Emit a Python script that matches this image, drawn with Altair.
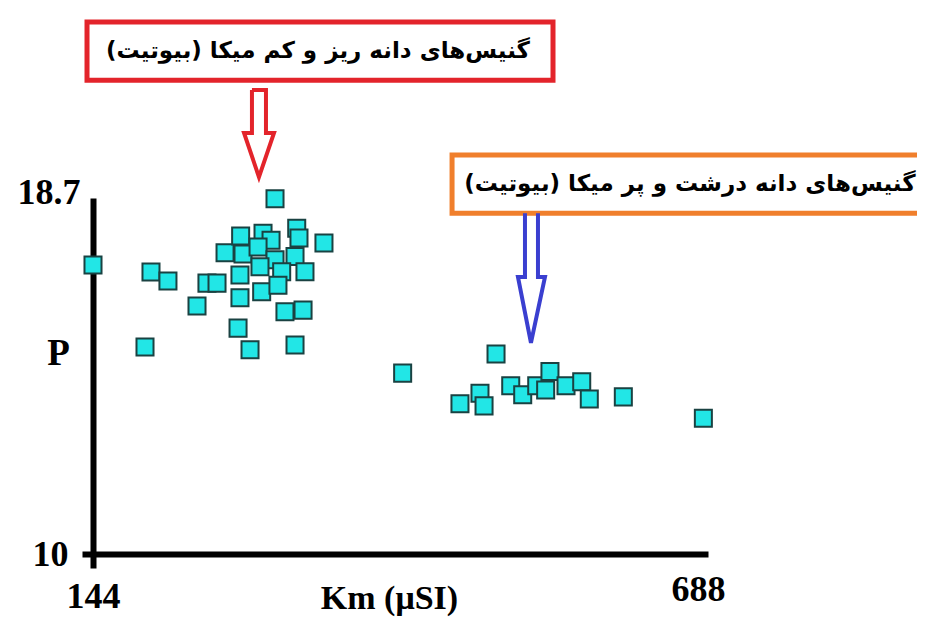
import altair as alt
import pandas as pd

# ---- data ----
km_fine = [305.0, 144.0, 195.3, 210.3, 244.8, 253.7, 236.0, 260.8, 274.6, 294.4, 301.5,
           324.2, 326.2, 348.3, 276.7, 290.0, 305.0, 322.7, 291.7, 274.0, 310.9, 331.5,
           293.2, 307.6, 274.0, 313.8, 329.8, 272.3, 282.9, 322.7, 190.0]
p_fine = [18.68, 17.06, 16.89, 16.67, 16.62, 16.62, 16.06, 17.36, 17.77, 17.84, 17.67,
          17.96, 17.72, 17.60, 17.33, 17.50, 17.19, 17.27, 17.02, 16.82, 16.90, 16.90,
          16.41, 16.57, 16.26, 15.92, 15.96, 15.52, 14.99, 15.11, 15.06]
km_coarse = [417.9, 500.5, 468.6, 486.3, 489.9, 513.5, 524.1, 536.5, 544.4, 548.2,
             562.4, 576.3, 583.0, 613.1, 683.9]
p_coarse = [14.42, 14.89, 13.67, 13.93, 13.62, 14.11, 13.89, 14.11, 14.01, 14.46,
            14.11, 14.21, 13.79, 13.84, 13.32]

x_ticks = [144, 688]
y_ticks = [10, 18.7]
x_title = "Km (\u03bcSI)"
y_title = "P"
label_fine = "\u200f\u06af\u0646\u06cc\u0633\u200c\u0647\u0627\u06cc \u062f\u0627\u0646\u0647 \u0631\u06cc\u0632 \u0648 \u06a9\u0645 \u0645\u06cc\u06a9\u0627 (\u0628\u06cc\u0648\u062a\u06cc\u062a)\u200f"
label_coarse = "\u200f\u06af\u0646\u06cc\u0633\u200c\u0647\u0627\u06cc \u062f\u0627\u0646\u0647 \u062f\u0631\u0634\u062a \u0648 \u067e\u0631 \u0645\u06cc\u06a9\u0627 (\u0628\u06cc\u0648\u062a\u06cc\u062a)\u200f"

# annotation geometry, in data units (Km, P)
red_box = [138.7, 550.9, 23.0, 21.58]
orange_box = [461.6, 900.0, 19.75, 18.33]
red_text_pos = [343.0, 22.30]
orange_text_pos = [672.0, 19.05]
red_arrow_x = [284.6, 297.0, 297.0, 304.1, 290.8, 277.6, 284.6, 284.6]
red_arrow_y = [21.34, 21.34, 20.29, 20.29, 19.21, 20.29, 20.29, 21.34]
blue_arrow_x = [526.1, 526.1, 519.9, 531.4, 543.8, 537.6, 537.6]
blue_arrow_y = [18.33, 16.77, 16.77, 15.16, 16.77, 16.77, 18.33]

SERIF = "Liberation Serif"

xscale = alt.Scale(domain=[134.27, 688], nice=False, zero=False)
yscale = alt.Scale(domain=[9.658, 18.7], nice=False, zero=False)

xaxis = alt.Axis(
    values=x_ticks, format="d", title=x_title, offset=-14, ticks=False, grid=False,
    domainColor="black", domainWidth=6, labelFont=SERIF, labelFontSize=36,
    labelFontWeight="bold", labelColor="black", labelFlush=False, labelOverlap=False,
    labelBaseline="top",
    labelPadding={"condition": {"test": "datum.value == 688", "value": 18}, "value": 25},
    labelOffset={"condition": {"test": "datum.value == 688", "value": -10}, "value": 0},
    titleFont=SERIF, titleFontSize=34, titleFontWeight="bold", titleColor="black",
    titleX=307, titleY=27, titleBaseline="top", titleAlign="center",
)
yaxis = alt.Axis(
    values=y_ticks, format=".1~f", title=y_title, offset=-11, ticks=False, grid=False,
    domainColor="black", domainWidth=6, labelFont=SERIF, labelFontSize=36,
    labelFontWeight="bold", labelColor="black", labelFlush=False, labelOverlap=False,
    labelBaseline="middle",
    labelPadding={"condition": {"test": "datum.value == 18.7", "value": 13}, "value": 25},
    labelOffset={"condition": {"test": "datum.value == 18.7", "value": -6}, "value": 0},
    titleFont=SERIF, titleFontSize=37, titleFontWeight="bold", titleColor="black",
    titleAngle=0, titleX=-35, titleY=155, titleBaseline="middle", titleAlign="center",
)


def X(field="x"):
    return alt.X(f"{field}:Q", scale=xscale, axis=xaxis)


def Y(field="y"):
    return alt.Y(f"{field}:Q", scale=yscale, axis=yaxis)


pts = pd.DataFrame({"x": km_fine + km_coarse, "y": p_fine + p_coarse})
points = alt.Chart(pts).mark_square(
    size=290, filled=True, color="#22e6e6", stroke="#1a4242", strokeWidth=2, opacity=1
).encode(x=X(), y=Y())

boxes = pd.DataFrame({
    "x": [red_box[0], orange_box[0]], "x2": [red_box[1], orange_box[1]],
    "y": [red_box[2], orange_box[2]], "y2": [red_box[3], orange_box[3]],
    "c": ["red", "orange"],
})
box_layer = alt.Chart(boxes).mark_rect(fill="white", strokeWidth=5).encode(
    x=X(), x2="x2:Q", y=Y(), y2="y2:Q",
    stroke=alt.Stroke("c:N", scale=alt.Scale(domain=["red", "orange"],
                                             range=["#e3242b", "#f07f2c"]), legend=None),
)

texts = pd.DataFrame({
    "x": [red_text_pos[0], orange_text_pos[0]],
    "y": [red_text_pos[1], orange_text_pos[1]],
    "t": [label_fine, label_coarse],
})
text_layer = alt.Chart(texts).mark_text(
    font="DejaVu Sans", fontWeight="bold", fontSize=23, color="black",
    align="center", baseline="middle", dir="rtl",
).encode(x=X(), y=Y(), text="t:N")

ra = pd.DataFrame({"x": red_arrow_x, "y": red_arrow_y, "o": list(range(len(red_arrow_x)))})
red_arrow = alt.Chart(ra).mark_line(color="#e3242b", strokeWidth=4, strokeJoin="miter").encode(
    x=X(), y=Y(), order="o:Q")

ba = pd.DataFrame({"x": blue_arrow_x, "y": blue_arrow_y, "o": list(range(len(blue_arrow_x)))})
blue_arrow = alt.Chart(ba).mark_line(color="#3a3fd0", strokeWidth=4, strokeJoin="miter").encode(
    x=X(), y=Y(), order="o:Q")

chart = alt.layer(box_layer, text_layer, red_arrow, blue_arrow, points).properties(
    width=626, height=370,
    padding={"left": 74, "top": 190, "right": 209, "bottom": 49},
    autosize=alt.AutoSizeParams(type="none"),
    background="white",
).configure_view(strokeWidth=0)

chart.save("out.html", embed_options={"renderer": "svg", "actions": False})
